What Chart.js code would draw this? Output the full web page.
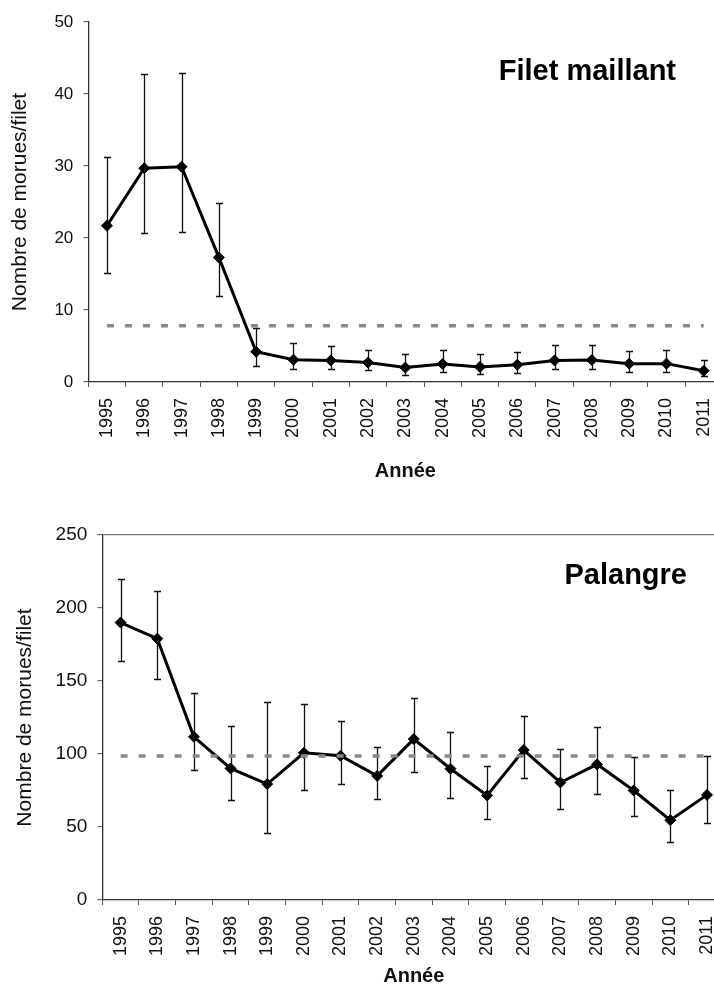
<!DOCTYPE html>
<html lang="fr">
<head>
<meta charset="utf-8">
<script src="https://cdn.jsdelivr.net/npm/chart.js@4/dist/chart.umd.min.js"></script>
<style>
html, body { margin: 0; padding: 0; background: #fff; }
#page { position: relative; width: 714px; height: 992px; overflow: hidden; background: #fff; }
canvas { position: absolute; left: 0; }
#cFilet { top: 0; }
#cPalangre { top: 500px; }
</style>
</head>
<body>
<div id="page">
  <canvas id="cFilet" width="740" height="500"></canvas>
  <canvas id="cPalangre" width="740" height="492"></canvas>
</div>
<script>
// Années d'échantillonnage
const annees = ['1995','1996','1997','1998','1999','2000','2001','2002','2003',
                '2004','2005','2006','2007','2008','2009','2010','2011'];

// Filet maillant : moyenne et intervalle (bas / haut)
const filetMoy  = [21.7, 29.7, 29.9, 17.3, 4.2, 3.1, 3.0, 2.7, 2.0, 2.5, 2.1, 2.4, 3.0, 3.05, 2.55, 2.55, 1.55];
const filetHaut = [31.2, 42.8, 42.9, 24.9, 7.5, 5.4, 5.0, 4.4, 3.9, 4.4, 3.9, 4.2, 5.15, 5.15, 4.3, 4.45, 3.1];
const filetBas  = [15.1, 20.7, 20.9, 12.0, 2.2, 1.8, 1.85, 1.65, 1.0, 1.35, 1.1, 1.3, 1.8, 1.8, 1.45, 1.45, 0.8];
const filetSeuil = 7.8;
const filetTicks = [0, 10, 20, 30, 40, 50];

// Palangre : moyenne et intervalle (bas / haut)
const palMoy  = [190, 179, 111.8, 90.1, 79.4, 100.8, 98.8, 85, 110.2, 89.9, 71.6, 102.7, 80.5, 92.9, 75, 54.7, 72];
const palHaut = [220.2, 211.5, 142, 119.1, 135.4, 134.2, 122.8, 104.5, 138.3, 115, 91.7, 126.2, 103.4, 118.5, 98.1, 75.2, 98.3];
const palBas  = [163.7, 151.2, 89, 68.6, 46.2, 75.4, 79.4, 69, 87.6, 69.8, 55.8, 83.5, 62.4, 72.5, 57.4, 39.6, 52.6];
const palSeuil = 98.6;
const palTicks = [0, 50, 100, 150, 200, 250];

const FONT = '"Liberation Sans", Arial, Helvetica, sans-serif';
Chart.defaults.font.family = FONT;
Chart.defaults.color = '#111';

// Police étroite pour les années verticales, si elle est disponible
function hasFont(name) {
  const c = document.createElement('canvas').getContext('2d');
  c.font = '40px "' + name + '", monospace';
  const a = c.measureText('1995 Année').width;
  c.font = '40px "' + name + '", serif';
  const b = c.measureText('1995 Année').width;
  return a === b;
}
const narrow = hasFont('Liberation Sans Narrow');
const yearFont = narrow
  ? { family: '"Liberation Sans Narrow", ' + FONT, size: 21 }
  : { family: FONT, size: 18 };

// Barres d'erreur verticales avec embouts
const errorBars = {
  id: 'errorBars',
  beforeDatasetsDraw(chart, args, opts) {
    const { ctx, scales: { x, y } } = chart;
    ctx.save();
    ctx.strokeStyle = opts.color;
    ctx.lineWidth = opts.width;
    opts.high.forEach((hi, i) => {
      const px = Math.round(x.getPixelForValue(i)) + 0.5;
      const yt = Math.round(y.getPixelForValue(hi)) + 0.5;
      const yb = Math.round(y.getPixelForValue(opts.low[i])) + 0.5;
      ctx.beginPath();
      ctx.moveTo(px, yt); ctx.lineTo(px, yb);
      ctx.moveTo(px - opts.cap, yt); ctx.lineTo(px + opts.cap, yt);
      ctx.moveTo(px - opts.cap, yb); ctx.lineTo(px + opts.cap, yb);
      ctx.stroke();
    });
    ctx.restore();
  }
};

// Étiquette de l'engin dans la zone de tracé
const panelLabel = {
  id: 'panelLabel',
  afterDraw(chart, args, opts) {
    const { ctx } = chart;
    ctx.save();
    ctx.font = 'bold 29px ' + FONT;
    ctx.fillStyle = '#000';
    ctx.textAlign = 'right';
    ctx.textBaseline = 'alphabetic';
    ctx.fillText(opts.text, opts.x, opts.y);
    ctx.restore();
  }
};

function buildChart(id, cfg) {
  const ticksAt = cfg.ticks;
  return new Chart(document.getElementById(id), {
    type: 'line',
    data: {
      labels: annees,
      datasets: [
        {
          data: annees.map(() => cfg.seuil),
          borderColor: '#888',
          borderWidth: 3.5,
          borderDash: [7, 11],
          pointRadius: 0,
          fill: false
        },
        {
          data: cfg.moy,
          borderColor: '#000',
          borderWidth: 3,
          tension: 0,
          pointStyle: 'rectRot',
          pointRadius: 5.5,
          pointBackgroundColor: '#000',
          pointBorderColor: '#000',
          pointBorderWidth: 1,
          fill: false
        }
      ]
    },
    options: {
      responsive: false,
      animation: false,
      events: [],
      layout: { padding: cfg.padding },
      plugins: {
        legend: { display: false },
        tooltip: { enabled: false },
        errorBars: { high: cfg.haut, low: cfg.bas, color: '#111', width: 1.3, cap: 3.5 },
        panelLabel: cfg.label
      },
      scales: {
        x: {
          type: 'category',
          offset: true,
          grid: { offset: true, drawOnChartArea: false, tickLength: 5, tickColor: '#555', tickWidth: 1 },
          border: { color: '#333', width: 1.3 },
          ticks: { autoSkip: false, minRotation: 90, maxRotation: 90, padding: 11, color: '#111', font: yearFont },
          title: { display: true, text: 'Année', color: '#111', font: { size: 20, weight: 'bold' }, padding: { top: 0, bottom: cfg.xTitlePad } },
          afterFit(s) { s.height = cfg.xHeight; }
        },
        y: {
          min: ticksAt[0],
          max: ticksAt[ticksAt.length - 1],
          afterBuildTicks(s) { s.ticks = ticksAt.map(v => ({ value: v })); },
          grid: {
            drawOnChartArea: cfg.topLine,
            color: c => (c.tick && c.tick.value === ticksAt[ticksAt.length - 1]) ? '#777' : 'rgba(0,0,0,0)',
            lineWidth: 1.3,
            tickLength: 5,
            tickColor: '#555',
            tickWidth: 1
          },
          border: { color: '#333', width: 1.3 },
          ticks: { padding: 10, color: '#111', font: { size: cfg.yTickSize } },
          title: { display: true, text: 'Nombre de morues/filet', color: '#111', font: { size: 21 }, padding: { top: cfg.yTitlePad, bottom: 0 } },
          afterFit(s) { s.width = cfg.yWidth; }
        }
      }
    },
    plugins: [errorBars, panelLabel]
  });
}

buildChart('cFilet', {
  moy: filetMoy, haut: filetHaut, bas: filetBas, seuil: filetSeuil, ticks: filetTicks,
  padding: { top: 22, right: 17.6, left: 0, bottom: 0 },
  xHeight: 118, xTitlePad: 17, yWidth: 88.3, yTitlePad: 8, yTickSize: 17, topLine: false,
  label: { text: 'Filet maillant', x: 676, y: 80 }
});

buildChart('cPalangre', {
  moy: palMoy, haut: palHaut, bas: palBas, seuil: palSeuil, ticks: palTicks,
  padding: { top: 35, right: 14.3, left: 0, bottom: 0 },
  xHeight: 92, xTitlePad: 4, yWidth: 102.3, yTitlePad: 13, yTickSize: 19, topLine: true,
  label: { text: 'Palangre', x: 687, y: 84 }
});
</script>
</body>
</html>
